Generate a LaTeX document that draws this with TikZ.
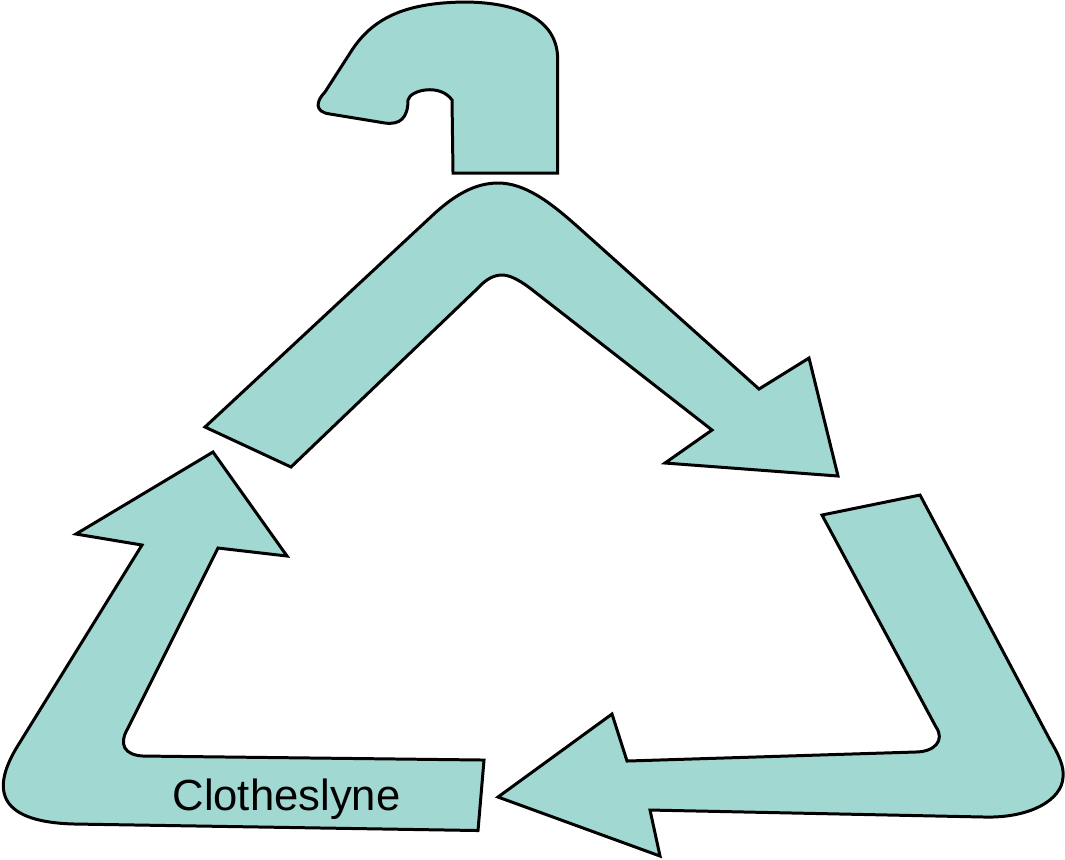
\documentclass[tikz,border=0pt]{standalone}
\usepackage{fontspec}
\setmainfont{Liberation Sans}
\usepackage{xcolor}
\definecolor{hangerfill}{HTML}{A1D8D2}
\tikzset{
  hanger/.style={fill=hangerfill, draw=black, line width=0.85pt, line join=miter},
  caption/.style={font=\fontsize{12.4}{14}\selectfont, inner sep=0pt}
}

\begin{document}
\begin{tikzpicture}[x=0.01cm, y=-0.01cm]

      \useasboundingbox (0, 0) rectangle (1065, 859);

      % Hook
      \draw [hanger] (453, 173) -- (557.5, 173) -- (557.5, 55)
      .. controls (555, 20) and (520, 2) .. (463, 2)
      .. controls (410, 3) and (375, 15) .. (352, 50)
      -- (325, 92)
      .. controls (316, 101) and (314, 112) .. (330, 114)
      -- (385, 123)
      .. controls (400, 125) and (408, 118) .. (408, 100)
      .. controls (410, 90) and (440, 83) .. (452, 100)
      -- cycle;

      % Top arrow
      \draw [hanger] (205, 427) -- (435, 213)
      .. controls (455, 195) and (475, 183) .. (498, 183)
      .. controls (525, 183) and (550, 202) .. (578, 227)
      -- (759, 389) -- (809, 358) -- (838, 476) -- (665, 463) -- (712, 430)
      -- (535, 292)
      .. controls (520, 280) and (510, 275) .. (502, 275)
      .. controls (495, 275) and (487, 278) .. (478, 288)
      -- (291, 467) -- cycle;

      % Right arrow
      \draw [hanger] (822, 515) -- (920, 495) -- (1050, 740)
      .. controls (1060, 757) and (1064, 767) .. (1063, 777)
      .. controls (1062, 800) and (1030, 818) .. (985, 817)
      -- (650, 810) -- (660, 856) -- (498, 797) -- (612, 714) -- (627, 761)
      -- (915, 752)
      .. controls (935, 752) and (945, 740) .. (936, 727)
      -- cycle;

      % Left arrow
      \draw [hanger] (484, 760) -- (143, 756)
      .. controls (125, 755) and (118, 745) .. (128, 728)
      -- (218, 548) -- (287, 556) -- (213, 452) -- (76, 534) -- (142, 545)
      -- (17, 747)
      .. controls (-6, 785) and (-8, 822) .. (75, 824)
      -- (478, 830.5) -- cycle;

      \node [caption] (clothesline) at (286.5, 799) {Clotheslyne};

    \end{tikzpicture}
\end{document}
